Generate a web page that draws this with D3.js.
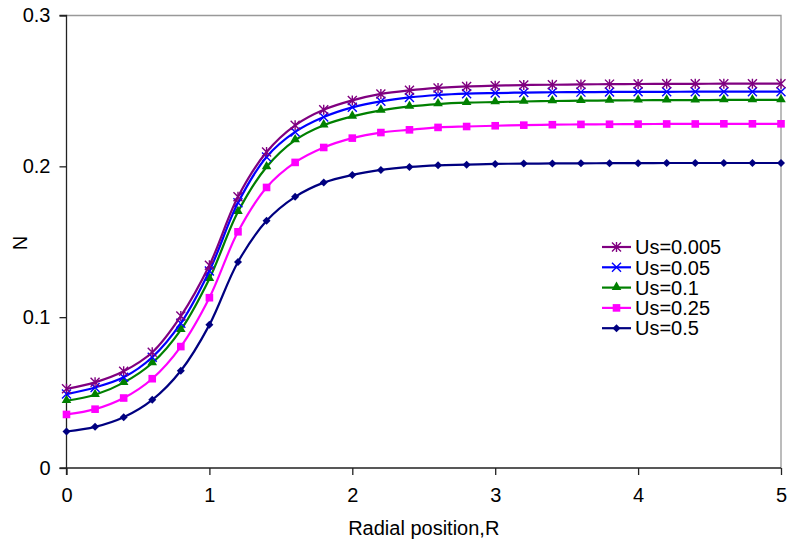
<!DOCTYPE html>
<html>
<head>
<meta charset="utf-8">
<script src="https://cdn.jsdelivr.net/npm/d3@7"></script>
<style>
  html, body { margin: 0; padding: 0; background: #fff; }
  svg { display: block; }
  text { font-family: "Liberation Sans", Arial, sans-serif; fill: #000; }
</style>
</head>
<body>
<svg id="chart" width="790" height="545"></svg>
<script>
// Radial position values (R)
const radial = [0, 0.2, 0.4, 0.6, 0.8, 1.0, 1.2, 1.4, 1.6, 1.8, 2.0, 2.2, 2.4, 2.6,
                2.8, 3.0, 3.2, 3.4, 3.6, 3.8, 4.0, 4.2, 4.4, 4.6, 4.8, 5.0];

// N for each Us value
const nUs0005 = [0.0525, 0.0568, 0.0641, 0.0767, 0.1007, 0.1344, 0.1798, 0.2095, 0.2272, 0.2375,
                 0.2437, 0.2480, 0.2504, 0.2520, 0.2530, 0.2535, 0.2539, 0.2541, 0.2543, 0.2545,
                 0.2546, 0.2547, 0.2547, 0.2548, 0.2548, 0.2548];
const nUs005  = [0.0490, 0.0534, 0.0601, 0.0734, 0.0960, 0.1306, 0.1758, 0.2062, 0.2228, 0.2327,
                 0.2391, 0.2431, 0.2457, 0.2473, 0.2482, 0.2486, 0.2489, 0.2491, 0.2492, 0.2493,
                 0.2494, 0.2494, 0.2495, 0.2495, 0.2495, 0.2495];
const nUs01   = [0.0446, 0.0486, 0.0566, 0.0696, 0.0916, 0.1255, 0.1699, 0.1996, 0.2174, 0.2273,
                 0.2331, 0.2371, 0.2397, 0.2413, 0.2422, 0.2426, 0.2430, 0.2433, 0.2435, 0.2437,
                 0.2438, 0.2439, 0.2439, 0.2440, 0.2440, 0.2440];
const nUs025  = [0.0355, 0.0390, 0.0464, 0.0592, 0.0805, 0.1129, 0.1566, 0.1860, 0.2026, 0.2125,
                 0.2187, 0.2224, 0.2242, 0.2258, 0.2264, 0.2269, 0.2273, 0.2276, 0.2278, 0.2279,
                 0.2280, 0.2281, 0.2281, 0.2282, 0.2282, 0.2282];
const nUs05   = [0.0242, 0.0273, 0.0337, 0.0452, 0.0645, 0.0949, 0.1366, 0.1639, 0.1798, 0.1892,
                 0.1943, 0.1976, 0.1996, 0.2007, 0.2011, 0.2016, 0.2018, 0.2019, 0.2020, 0.2021,
                 0.2021, 0.2022, 0.2022, 0.2022, 0.2022, 0.2022];

const seriesNames = ["Us=0.005", "Us=0.05", "Us=0.1", "Us=0.25", "Us=0.5"];
const seriesValues = [nUs0005, nUs005, nUs01, nUs025, nUs05];
const seriesColors = ["#800080", "#0000ff", "#008000", "#ff00ff", "#000080"];
const seriesMarkers = ["asterisk", "cross", "triangle", "square", "diamond"];

const xTicks = [0, 1, 2, 3, 4, 5];
const yTicks = [0, 0.1, 0.2, 0.3];

const svg = d3.select("#chart");
const plot = { left: 66.5, right: 781, top: 15.5, bottom: 468 };

const x = d3.scaleLinear().domain([0, 5]).range([plot.left, plot.right]);
const y = d3.scaleLinear().domain([0, 0.3]).range([plot.bottom, plot.top]);

// Plot frame: grey top and right edges
svg.append("path")
  .attr("d", `M${plot.left},${plot.top}H${plot.right}V${plot.bottom}`)
  .attr("fill", "none").attr("stroke", "#999").attr("stroke-width", 1.3);

// Axes
const yAxis = svg.append("g").attr("transform", `translate(${plot.left},0)`)
  .call(d3.axisLeft(y).tickValues(yTicks).tickSize(7).tickPadding(9)
    .tickFormat(d => d === 0 ? "0" : d3.format(".1f")(d)));
const xAxis = svg.append("g").attr("transform", `translate(0,${plot.bottom})`)
  .call(d3.axisBottom(x).tickValues(xTicks).tickSize(7).tickPadding(13)
    .tickFormat(d3.format("d")));

[yAxis, xAxis].forEach(g => {
  g.select(".domain").attr("stroke", "#222").attr("stroke-width", 1.3);
  g.selectAll(".tick line").attr("stroke", "#222").attr("stroke-width", 1.3);
  g.selectAll(".tick text").attr("font-size", 20).attr("fill", "#000")
    .attr("font-family", "'Liberation Sans', Arial, sans-serif");
});
yAxis.select(".domain").attr("d", `M-7,${plot.bottom}H0V${plot.top}H-7`);
xAxis.select(".domain").attr("d", `M${plot.left},7V0H${plot.right}`);

// Axis titles
svg.append("text")
  .attr("x", (plot.left + plot.right) / 2 + 0).attr("y", 535)
  .attr("text-anchor", "middle").attr("font-size", 20)
  .text("Radial position,R");
svg.append("text")
  .attr("transform", "translate(27,243) rotate(-90)")
  .attr("text-anchor", "middle").attr("font-size", 20)
  .text("N");

// Marker shapes
function drawMarker(g, type, color) {
  const s = 4.5;
  if (type === "asterisk") {
    g.append("path")
      .attr("d", `M${-s},${-s}L${s},${s}M${-s},${s}L${s},${-s}M0,${-s - 0.5}V${s + 0.5}`)
      .attr("stroke", color).attr("stroke-width", 1.4).attr("fill", "none");
  } else if (type === "cross") {
    g.append("path")
      .attr("d", `M${-s},${-s}L${s},${s}M${-s},${s}L${s},${-s}`)
      .attr("stroke", color).attr("stroke-width", 1.4).attr("fill", "none");
  } else if (type === "triangle") {
    g.append("path").attr("d", d3.symbol(d3.symbolTriangle, 40)())
      .attr("transform", "translate(0,-0.5)").attr("fill", color);
  } else if (type === "square") {
    g.append("rect").attr("x", -3.8).attr("y", -3.8).attr("width", 7.6).attr("height", 7.6)
      .attr("fill", color);
  } else if (type === "diamond") {
    g.append("path").attr("d", "M0,-4L4,0L0,4L-4,0Z").attr("fill", color);
  }
}

const line = d3.line().curve(d3.curveCatmullRom.alpha(0.5))
  .x(d => x(d[0])).y(d => y(d[1]));

// Draw series from the last (lowest) to the first so upper curves sit on top
for (let i = seriesValues.length - 1; i >= 0; i--) {
  const pts = radial.map((r, j) => [r, seriesValues[i][j]]);
  const g = svg.append("g");
  g.append("path").datum(pts).attr("d", line)
    .attr("fill", "none").attr("stroke", seriesColors[i]).attr("stroke-width", 2.2);
  g.selectAll("g.m").data(pts).enter().append("g").attr("class", "m")
    .attr("transform", d => `translate(${x(d[0])},${y(d[1])})`)
    .each(function () { drawMarker(d3.select(this), seriesMarkers[i], seriesColors[i]); });
}

// Legend
const legend = svg.append("g");
seriesNames.forEach((name, i) => {
  const cy = 247 + i * 20.3;
  legend.append("line").attr("x1", 602).attr("x2", 631).attr("y1", cy).attr("y2", cy)
    .attr("stroke", seriesColors[i]).attr("stroke-width", 2.2);
  const mg = legend.append("g").attr("transform", `translate(616.5,${cy})`);
  drawMarker(mg, seriesMarkers[i], seriesColors[i]);
  legend.append("text").attr("x", 635).attr("y", cy + 7.2).attr("font-size", 20).text(name);
});
</script>
</body>
</html>
